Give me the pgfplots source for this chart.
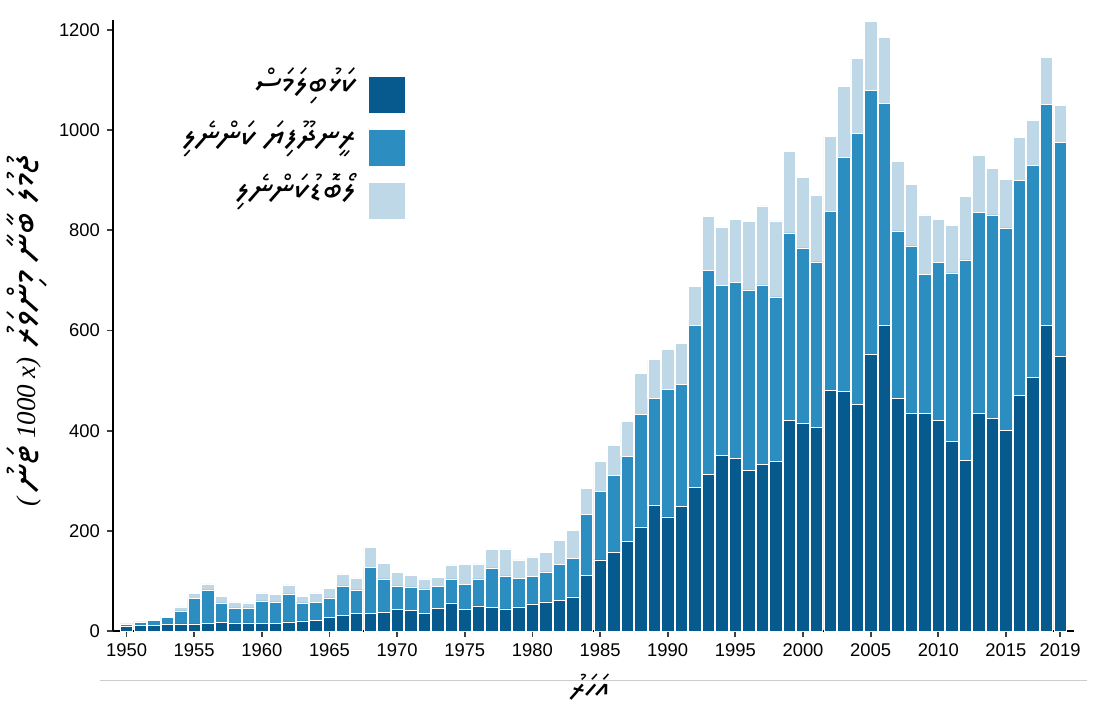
\documentclass[border=0pt]{standalone}
\usepackage{fontspec}
\setmainfont{Liberation Sans}
\usepackage{pgfplots}
\usepackage{pgfplotstable}
\pgfplotsset{compat=1.18}
\TeXXeTstate=1
\IfFontExistsTF{Noto Sans Thaana}{\newfontfamily\thaana[Script=Thaana]{Noto Sans Thaana}}{\newfontfamily\thaana{DejaVu Sans}}
\newfontfamily\serif{Liberation Serif}
\definecolor{c1}{HTML}{065A8E}
\definecolor{c2}{HTML}{2C8DC0}
\definecolor{c3}{HTML}{BFD8E8}
\pgfplotstableread{
year d m l
1950 9 5 1
1951 11 7 1
1952 11 10 2
1953 13 14 2
1954 14 26 8
1955 14 51 10
1956 15 67 12
1957 17 39 13
1958 16 30 12
1959 16 30 10
1960 15 45 16
1961 15 43 15
1962 18 56 18
1963 20 36 13
1964 21 36 19
1965 27 39 19
1966 31 59 24
1967 35 47 24
1968 35 92 40
1969 37 67 31
1970 43 47 27
1971 41 47 23
1972 35 49 20
1973 45 44 18
1974 56 48 28
1975 43 50 40
1976 50 54 30
1977 47 79 37
1978 44 66 54
1979 48 57 37
1980 54 55 39
1981 58 60 39
1982 61 72 48
1983 68 77 56
1984 111 122 52
1985 142 137 59
1986 157 153 61
1987 179 170 69
1988 208 225 81
1989 251 213 78
1990 228 254 80
1991 249 244 82
1992 286 324 78
1993 313 407 108
1994 350 340 117
1995 345 351 126
1996 321 360 137
1997 332 359 158
1998 338 329 152
1999 420 375 163
2000 415 350 140
2001 407 330 132
2002 480 358 150
2003 479 466 142
2004 452 541 150
2005 553 527 138
2006 611 442 132
2007 464 335 138
2008 434 335 122
2009 435 277 119
2010 420 316 86
2011 378 337 95
2012 341 400 126
2013 435 401 113
2014 425 406 93
2015 400 405 97
2016 470 429 87
2017 506 423 91
2018 610 441 95
2019 548 428 73
}\datatable
\begin{document}
\begin{tikzpicture}
\useasboundingbox (-56.5pt,-39pt) rectangle (492pt,315.5pt);
\begin{axis}[
  at={(0,0)}, anchor=south west,
  scale only axis, width=480.3pt, height=305.5pt,
  xmin=1949, xmax=2020, ymin=0, ymax=1220,
  ybar stacked, bar width=0.92,
  axis x line*=bottom, axis y line*=left,
  axis line style={line width=1pt, black},
  xtick={1950,1955,...,2015,2019},
  ytick={0,200,...,1200},
  tick align=outside, major tick length=3pt,
  tick style={line width=0.9pt, black!75},
  /pgf/number format/1000 sep={},
  /pgf/number format/assume math mode=true,
  ticklabel style={font=\fontsize{9.2}{11}\selectfont},
  legend style={at={(0.305,0.909)}, anchor=north east, draw=none, fill=none,
    inner sep=0pt, row sep=7.75pt, column sep=4pt,
    font=\fontsize{17.5}{19}\selectfont, cells={anchor=east}},
  legend plot pos=right,
  legend image code/.code={\fill[#1] (0pt,-9.25pt) rectangle (18.5pt,9.25pt);},
]
\addplot[fill=c1, draw=white, line width=0.3pt] table[x=year,y=d] {\datatable};
\addlegendentry{\smash{\thaana\beginR ކަޅުބިލަމަސް\endR}}
\addplot[fill=c2, draw=white, line width=0.3pt] table[x=year,y=m] {\datatable};
\addlegendentry{\smash{\thaana\beginR ރީނދޫފިޔަ ކަންނެލި\endR}}
\addplot[fill=c3, draw=white, line width=0.3pt] table[x=year,y=l] {\datatable};
\addlegendentry{\smash{\thaana\beginR ލޯބޮޑުކަންނެލި\endR}}
\end{axis}
\draw[black!20, line width=0.5pt] (-6.5pt,-24.5pt) -- (487pt,-24.5pt);
\node[font=\thaana\fontsize{16}{18}\selectfont, inner sep=0pt] at (238.5pt,-28pt) {\beginR އަހަރު\endR};
\node[rotate=90, font=\serif\itshape\fontsize{13.5}{15}\selectfont] at (-43pt,150.5pt) {( {\thaana\fontsize{19.5}{21}\selectfont\beginR ޓަނު\endR} 1000 x) \,{\thaana\fontsize{19.5}{21}\selectfont\beginR ޖުމުލަ ބާނާ މިންވަރު\endR}};
\end{tikzpicture}
\end{document}
